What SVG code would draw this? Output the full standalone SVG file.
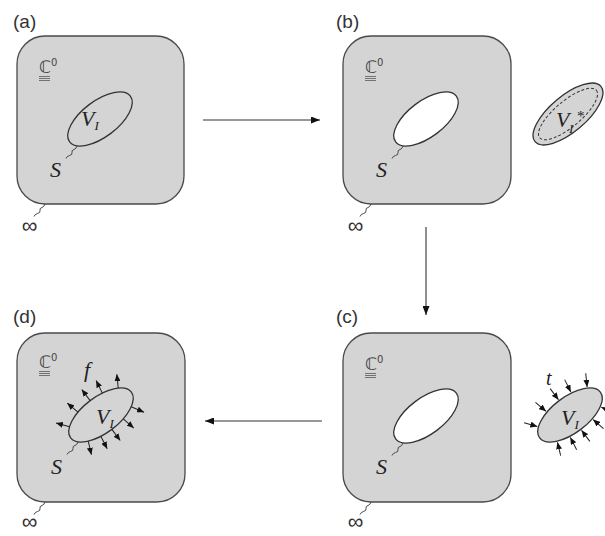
<svg xmlns="http://www.w3.org/2000/svg" xmlns:xlink="http://www.w3.org/1999/xlink" width="605" height="536" viewBox="0 0 605 536">
<style>
.box{fill:#d4d4d4;stroke:#4a4a4a;stroke-width:1.3}
.ell{stroke:#333;stroke-width:1.3}
.lab{font-family:"Liberation Sans",Arial,sans-serif;font-size:19px;fill:#333}
.m{font-family:"Liberation Serif","Times New Roman",serif;font-style:italic;fill:#222}
.cc{font-family:"DejaVu Sans",sans-serif;font-size:17px;fill:#444}
.sup{font-family:"DejaVu Sans",sans-serif;font-size:10px;fill:#444}
.inf{font-family:"Liberation Sans",Arial,sans-serif;font-size:22px;fill:#333}
.sq{fill:none;stroke:#444;stroke-width:1}
.ul{stroke:#666;stroke-width:0.9}
.ar{fill:none;stroke:#222;stroke-width:1;marker-end:url(#ah)}
.conn{fill:none;stroke:#333;stroke-width:1.1;marker-end:url(#big)}
</style>
<defs>
<marker id="ah" viewBox="0 0 7 6" refX="7" refY="3" markerWidth="7" markerHeight="6" markerUnits="userSpaceOnUse" orient="auto"><path d="M0,0L7,3L0,6z" fill="#111"/></marker>
<marker id="big" viewBox="0 0 9 7" refX="9" refY="3.5" markerWidth="9" markerHeight="7" markerUnits="userSpaceOnUse" orient="auto"><path d="M0,0L9,3.5L0,7z" fill="#111"/></marker>
<path id="squig" d="M0,0 q-1,3 -3,3.5 q-2.5,0.5 -2,3 q0.5,2.5 -2.5,3 q-2.5,0.5 -3.5,3"/>
<g id="c0">
<text class="cc" x="0" y="0">ℂ</text>
<text class="sup" x="12" y="-7">0</text>
<line class="ul" x1="0" y1="3.5" x2="11" y2="3.5"/>
<line class="ul" x1="0" y1="5.5" x2="11" y2="5.5"/>
<line class="ul" x1="0" y1="7.5" x2="11" y2="7.5"/>
</g>
</defs>

<g id="panel-a">
<text class="lab" x="13" y="28">(a)</text>
<rect class="box" x="17" y="36" width="167" height="168" rx="28"/>
<use xlink:href="#c0" x="39" y="73"/>
<g transform="translate(100,119) rotate(-37)"><ellipse class="ell" cx="0" cy="0" rx="38" ry="18" fill="none"/></g>
<use xlink:href="#squig" class="sq" x="77" y="146"/>
<text class="m" x="50" y="177" font-size="22">S</text>
<text class="m" x="81" y="126" font-size="22">V<tspan font-size="13" dy="4">I</tspan></text>
<use xlink:href="#squig" class="sq" x="45" y="204"/>
<text class="inf" x="29.5" y="233" text-anchor="middle">∞</text>
</g>

<g id="panel-b">
<text class="lab" x="336" y="28">(b)</text>
<rect class="box" x="343" y="36" width="168" height="168" rx="28"/>
<use xlink:href="#c0" x="365" y="73"/>
<g transform="translate(426,119) rotate(-37)"><ellipse class="ell" cx="0" cy="0" rx="38" ry="18" fill="#fff"/></g>
<use xlink:href="#squig" class="sq" x="403" y="146"/>
<text class="m" x="376" y="177" font-size="22">S</text>
<use xlink:href="#squig" class="sq" x="371" y="204"/>
<text class="inf" x="355.5" y="233" text-anchor="middle">∞</text>
</g>

<g id="body-b">
<g transform="translate(568,114) rotate(-40)">
<ellipse class="ell" cx="0" cy="0" rx="43" ry="18" fill="#d4d4d4"/>
<ellipse cx="0" cy="0" rx="37" ry="13" fill="none" stroke="#333" stroke-width="1" stroke-dasharray="3,2"/>
</g>
<text class="m" x="556" y="127" font-size="22">V</text>
<text class="m" x="569" y="133" font-size="13">I</text>
<text x="577" y="121" font-family="Liberation Serif, serif" font-size="15" fill="#222">*</text>
</g>

<g id="panel-c">
<text class="lab" x="336" y="323">(c)</text>
<rect class="box" x="343" y="333" width="168" height="169" rx="28"/>
<use xlink:href="#c0" x="365" y="370"/>
<g transform="translate(426,416) rotate(-37)"><ellipse class="ell" cx="0" cy="0" rx="38" ry="18" fill="#fff"/></g>
<use xlink:href="#squig" class="sq" x="403" y="443"/>
<text class="m" x="376" y="474" font-size="22">S</text>
<use xlink:href="#squig" class="sq" x="371" y="502"/>
<text class="inf" x="355.5" y="529" text-anchor="middle">∞</text>
</g>

<g id="body-c">
<g transform="translate(570,415) rotate(-37)">
<ellipse class="ell" cx="0" cy="0" rx="38" ry="18" fill="#d4d4d4"/>
<path class="ar" d="M-41.28,-21.5L-32.94,-10.5"/>
<path class="ar" d="M-20.04,-30.79L-16.93,-17.35"/>
<path class="ar" d="M0,-33L0,-19.2"/>
<path class="ar" d="M17.05,-31.42L14.46,-17.87"/>
<path class="ar" d="M37.71,-23.91L30.56,-12.11"/>
<path class="ar" d="M36.48,24.64L29.7,12.62"/>
<path class="ar" d="M18.54,31.12L15.7,17.61"/>
<path class="ar" d="M0,33L0,19.2"/>
<path class="ar" d="M-15.55,31.69L-13.2,18.09"/>
<path class="ar" d="M-31.98,26.9L-26.4,14.27"/>
</g>
<text class="m" x="546" y="385" font-size="20">t</text>
<text class="m" x="561" y="425" font-size="22">V<tspan font-size="13" dy="4">I</tspan></text>
</g>

<g id="panel-d">
<text class="lab" x="13" y="323">(d)</text>
<rect class="box" x="17" y="333" width="168" height="169" rx="28"/>
<use xlink:href="#c0" x="39" y="368"/>
<g transform="translate(101,415) rotate(-37)">
<ellipse class="ell" cx="0" cy="0" rx="38" ry="18" fill="none"/>
<path class="ar" d="M-32.22,-9.54L-40.68,-20.7"/>
<path class="ar" d="M-16.66,-16.18L-19.81,-29.82"/>
<path class="ar" d="M0,-18L0,-32"/>
<path class="ar" d="M14.23,-16.69L16.86,-30.44"/>
<path class="ar" d="M29.94,-11.08L37.19,-23.05"/>
<path class="ar" d="M29.11,11.57L35.99,23.76"/>
<path class="ar" d="M15.45,16.44L18.34,30.14"/>
<path class="ar" d="M0,18L0,32"/>
<path class="ar" d="M-13,16.91L-15.38,30.71"/>
<path class="ar" d="M-25.92,13.17L-31.58,25.98"/>
</g>
<text class="m" x="84" y="377" font-size="22">f</text>
<text class="m" x="96" y="424" font-size="22">V<tspan font-size="13" dy="4">I</tspan></text>
<use xlink:href="#squig" class="sq" x="78" y="442"/>
<text class="m" x="51" y="474" font-size="22">S</text>
<use xlink:href="#squig" class="sq" x="45" y="502"/>
<text class="inf" x="29.5" y="529" text-anchor="middle">∞</text>
</g>

<g id="connectors">
<path class="conn" d="M203,120L320,120"/>
<path class="conn" d="M426,227L426,315"/>
<path class="conn" d="M322,421L205,421"/>
</g>
</svg>
